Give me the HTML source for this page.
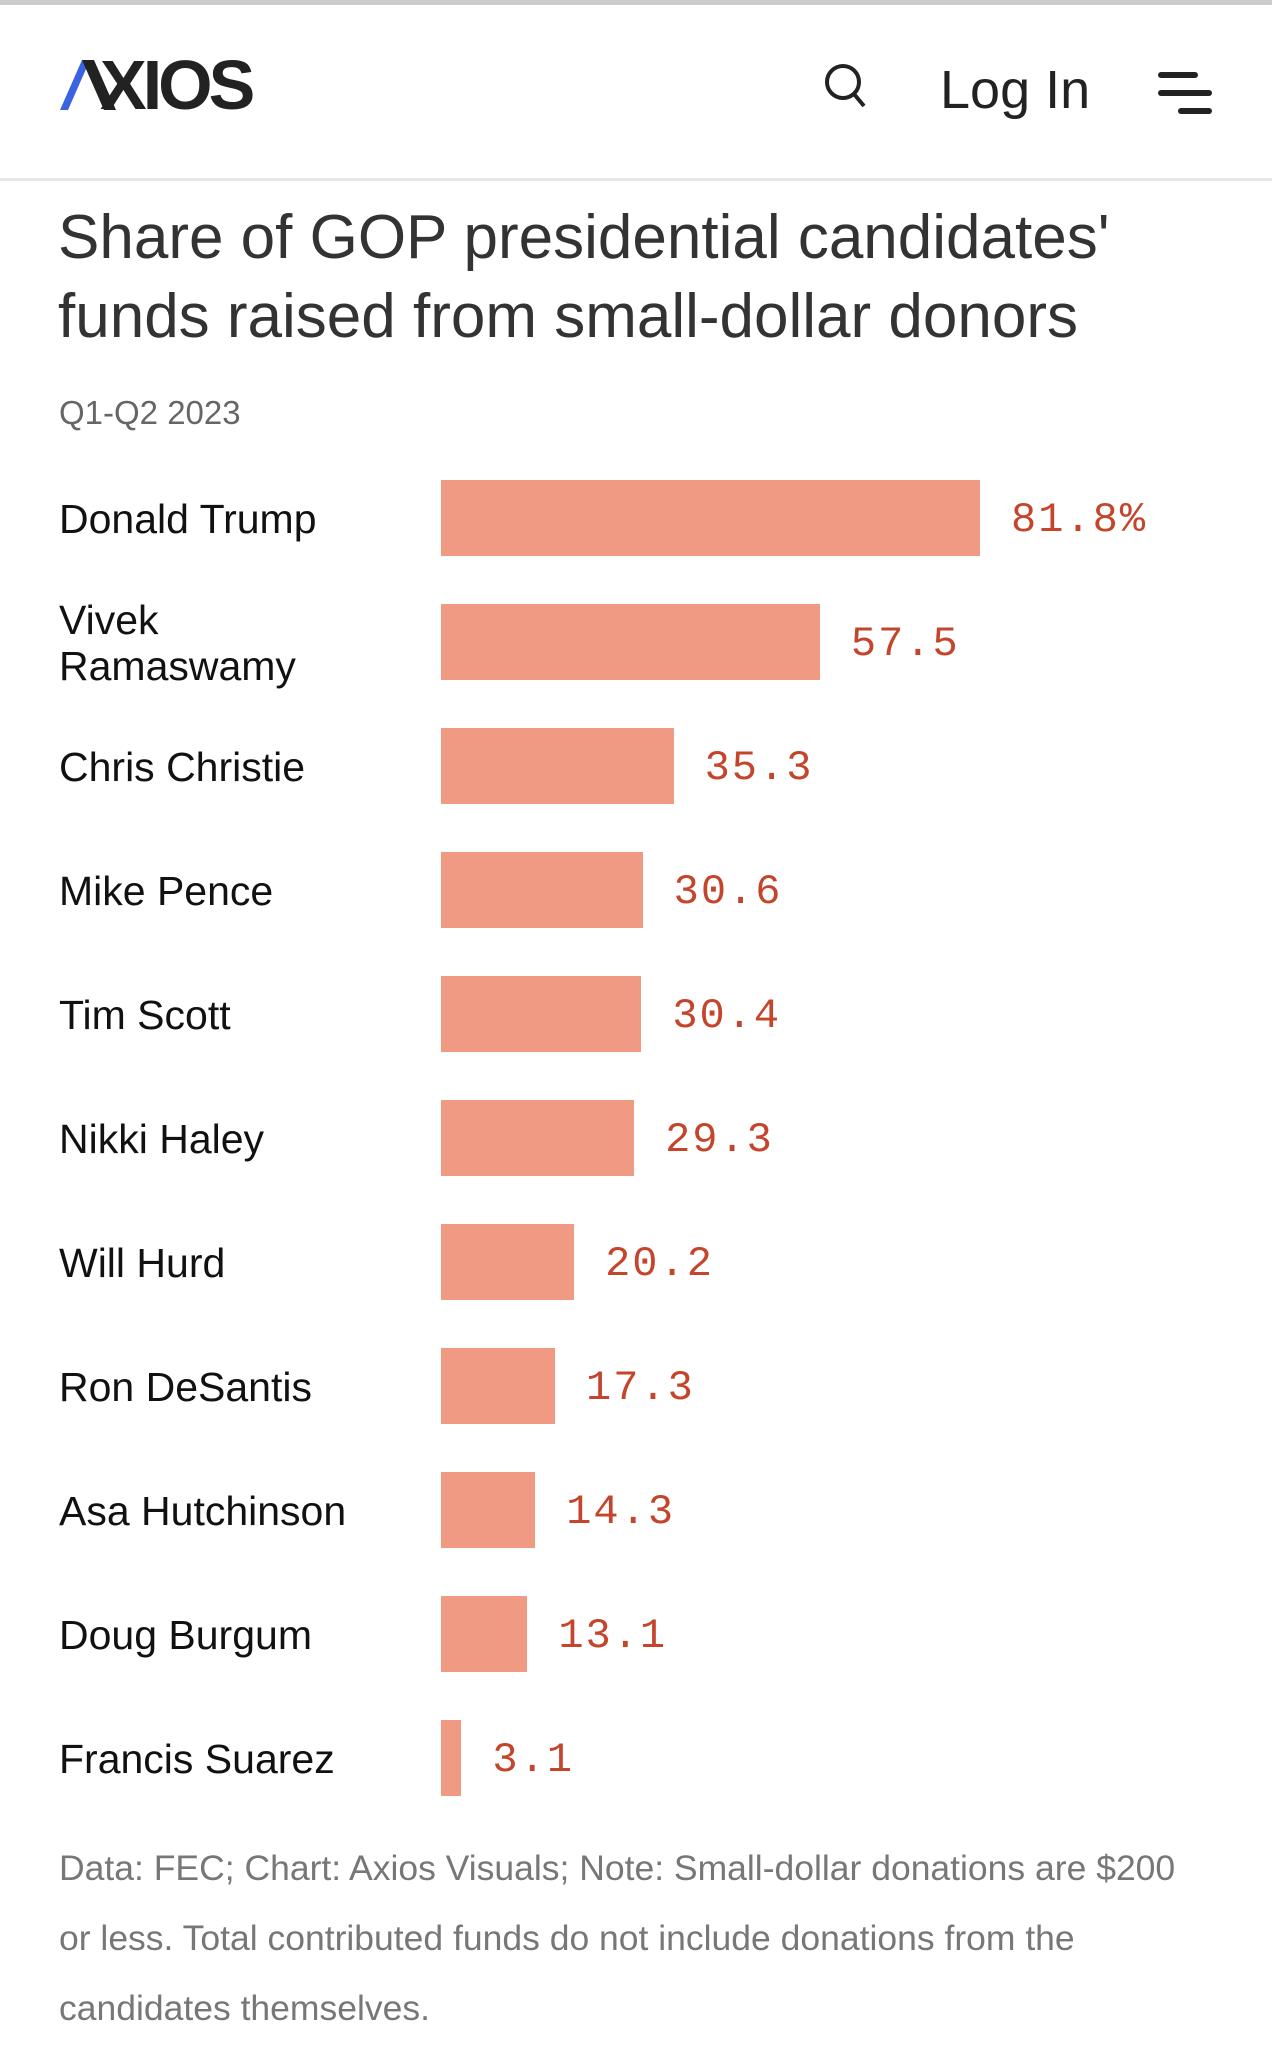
<!DOCTYPE html>
<html><head><meta charset="utf-8"><style>
body{margin:0;width:1272px;height:2048px;background:#fff;font-family:"Liberation Sans",sans-serif;overflow:hidden;position:relative}
.abs{position:absolute}
</style></head><body>
<div class="abs" style="left:0;top:0;width:1272px;height:5px;background:#ccc"></div>
<div class="abs" style="left:60px;top:58px;width:200px;height:56px">
<svg class="abs" style="left:0;top:2px" width="56" height="52"><polygon points="0,50 8,50 30,0 22,0" fill="#3b63e0"/><polygon points="22,0 34,0 56,50 44,50" fill="#222"/></svg>
<div class="abs" style="left:40px;top:-8px;font-size:70px;font-weight:bold;color:#222;letter-spacing:-4px;line-height:70px">XIOS</div>
</div>
<svg class="abs" style="left:822px;top:62px" width="48" height="50"><circle cx="21" cy="20" r="16" fill="none" stroke="#222" stroke-width="4"/><line x1="32" y1="32" x2="42" y2="44" stroke="#222" stroke-width="4"/></svg>
<div class="abs" style="left:940px;top:58px;font-size:54px;color:#222;line-height:64px">Log In</div>
<svg class="abs" style="left:1156px;top:68px" width="60" height="52"><rect x="2" y="4" width="40" height="6" rx="3" fill="#222"/><rect x="2" y="22" width="54" height="6" rx="3" fill="#222"/><rect x="22" y="40" width="34" height="6" rx="3" fill="#222"/></svg>
<div class="abs" style="left:0;top:178px;width:1272px;height:3px;background:#e6e6e6"></div>
<div class="abs" style="left:58px;top:198px;font-size:62px;line-height:79px;color:#333;white-space:nowrap">Share of GOP presidential candidates'<br>funds raised from small-dollar donors</div>
<div class="abs" style="left:59px;top:394px;font-size:33px;color:#666">Q1-Q2 2023</div>
<div id="chart"></div>
<div class="abs" style="left:59px;top:1833px;width:1220px;font-size:35.5px;line-height:70px;color:#777;white-space:nowrap">Data: FEC; Chart: Axios Visuals; Note: Small-dollar donations are $200<br>or less. Total contributed funds do not include donations from the<br>candidates themselves.</div>
<script>
const categories=["Donald Trump","Vivek Ramaswamy","Chris Christie","Mike Pence","Tim Scott","Nikki Haley","Will Hurd","Ron DeSantis","Asa Hutchinson","Doug Burgum","Francis Suarez"];
const values=[81.8,57.5,35.3,30.6,30.4,29.3,20.2,17.3,14.3,13.1,3.1];
const valueLabels=["81.8%","57.5","35.3","30.6","30.4","29.3","20.2","17.3","14.3","13.1","3.1"];
const x0=441,pxPer=539/81.8,top0=480,step=124,barH=76;
const xScale=v=>v*pxPer;
const yScale=i=>top0+i*step;
const c=document.getElementById('chart');
categories.forEach((name,i)=>{
  const y=yScale(i);
  const lab=document.createElement('div');
  lab.className='abs';
  
  
  const lines=name==="Vivek Ramaswamy"?"Vivek<br>Ramaswamy":name;
  lab.innerHTML=lines;
  lab.style.cssText=`left:59px;top:${y+1}px;height:${barH}px;display:flex;align-items:center;font-size:41px;line-height:46px;color:#111;`;
  c.appendChild(lab);
  const b=document.createElement('div');
  b.className='abs';
  
  
  b.style.cssText=`left:${x0}px;top:${y}px;width:${xScale(values[i])}px;height:${barH}px;background:#f09a84;`;
  c.appendChild(b);
  const v=document.createElement('div');
  v.className='abs';
  
  
  v.textContent=valueLabels[i];
  v.style.cssText=`left:${x0+xScale(values[i])+31}px;top:${y+2}px;height:${barH}px;display:flex;align-items:center;font-family:"Liberation Mono",monospace;font-size:42px;letter-spacing:2px;color:#c4452c;`;
  c.appendChild(v);
});
</script>
</body></html>
